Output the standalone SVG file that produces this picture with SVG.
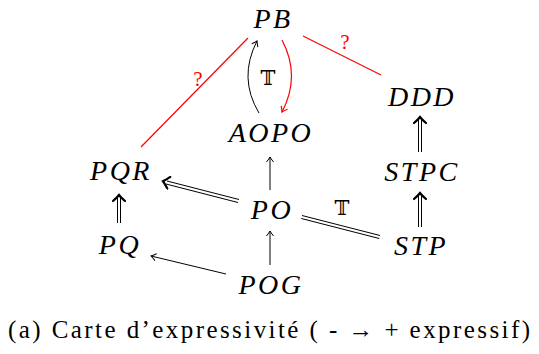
<svg xmlns="http://www.w3.org/2000/svg" width="539" height="354" viewBox="0 0 539 354">
<defs>
<marker id="a" markerWidth="10" markerHeight="10" viewBox="-6 -5 8 10" refX="0" refY="0" orient="auto" markerUnits="userSpaceOnUse">
<path d="M-5,-3.5 Q-1.5,-0.8 0,0 Q-1.5,0.8 -5,3.5" fill="none" stroke="#000" stroke-width="1"/>
</marker>
<marker id="ar" markerWidth="10" markerHeight="10" viewBox="-6 -5 8 10" refX="0" refY="0" orient="auto" markerUnits="userSpaceOnUse">
<path d="M-5,-3.5 Q-1.5,-0.8 0,0 Q-1.5,0.8 -5,3.5" fill="none" stroke="#f00" stroke-width="1.2"/>
</marker>
<marker id="d" markerWidth="14" markerHeight="14" viewBox="-8 -7 10 14" refX="0" refY="0" orient="auto" markerUnits="userSpaceOnUse">
<path d="M-6,-6 Q-2,-1.5 0,0 Q-2,1.5 -6,6" fill="none" stroke="#000" stroke-width="2.2" stroke-linecap="round"/>
</marker>
</defs>
<g id="edges" fill="none" stroke="#000" stroke-width="1">
<g stroke="#f00" stroke-width="1.2">
<line x1="248" y1="38" x2="141" y2="147"/>
<line x1="303" y1="36" x2="381" y2="75"/>
<path d="M282,40 Q301,76 282,112" marker-end="url(#ar)"/>
</g>
<g stroke="none" fill="#f00" font-family="Liberation Serif" font-size="21" text-anchor="middle">
<text x="198" y="86" style="font-family:'Liberation Serif',serif !important">?</text>
<text x="345" y="49" style="font-family:'Liberation Serif',serif !important">?</text>
</g>
<path d="M259,113 Q238,78 257,41" marker-end="url(#a)"/>
<line x1="270" y1="190" x2="270" y2="157" marker-end="url(#a)"/>
<line x1="270" y1="265" x2="270" y2="231" marker-end="url(#a)"/>
<line x1="226" y1="274" x2="151" y2="256" marker-end="url(#a)"/>
<g>
<line x1="238" y1="202.5" x2="166" y2="184"/>
<line x1="239" y1="199.5" x2="167" y2="181"/>
<line x1="170" y1="183" x2="163" y2="181.2" stroke="none" marker-end="url(#d)"/>
</g>
<g>
<line x1="117.5" y1="223" x2="117.5" y2="198"/>
<line x1="120.5" y1="223" x2="120.5" y2="198"/>
<line x1="119" y1="200" x2="119" y2="195" stroke="none" marker-end="url(#d)"/>
</g>
<g>
<line x1="418.5" y1="227" x2="418.5" y2="196"/>
<line x1="421.5" y1="227" x2="421.5" y2="196"/>
<line x1="420" y1="198" x2="420" y2="193" stroke="none" marker-end="url(#d)"/>
</g>
<g>
<line x1="418.5" y1="152" x2="418.5" y2="120"/>
<line x1="421.5" y1="152" x2="421.5" y2="120"/>
<line x1="420" y1="122" x2="420" y2="117" stroke="none" marker-end="url(#d)"/>
</g>
<line x1="302" y1="215.5" x2="380" y2="235.5"/>
<line x1="301.3" y1="218.5" x2="379.3" y2="238.5"/>
<g stroke="none" fill="#000" font-family="DejaVu Serif" font-size="20" text-anchor="middle">
<text x="268" y="85" style="font-family:'DejaVu Serif',serif !important">𝕋</text>
<text x="342" y="215" style="font-family:'DejaVu Serif',serif !important">𝕋</text>
</g>
</g>
<g font-family="Liberation Serif" font-style="italic" font-size="28" text-anchor="middle" letter-spacing="2.5" fill="#000">
<g id="PB"><text x="273" y="28" style="font-family:'Liberation Serif',serif !important">PB</text></g>
<g id="DDD"><text x="422" y="106" style="font-family:'Liberation Serif',serif !important">DDD</text></g>
<g id="AOPO"><text x="271" y="142" style="font-family:'Liberation Serif',serif !important">AOPO</text></g>
<g id="PQR"><text x="121" y="180" style="font-family:'Liberation Serif',serif !important">PQR</text></g>
<g id="STPC"><text x="422" y="181" style="font-family:'Liberation Serif',serif !important">STPC</text></g>
<g id="PO"><text x="272" y="219" style="font-family:'Liberation Serif',serif !important">PO</text></g>
<g id="STP"><text x="421" y="255" style="font-family:'Liberation Serif',serif !important">STP</text></g>
<g id="PQ"><text x="120" y="254" style="font-family:'Liberation Serif',serif !important">PQ</text></g>
<g id="POG"><text x="271" y="294" style="font-family:'Liberation Serif',serif !important">POG</text></g>
</g>
<g id="caption"><text x="8" y="338" font-family="Liberation Serif" font-size="25" fill="#000" textLength="522" lengthAdjust="spacing" style="font-family:'Liberation Serif',serif !important">(a) Carte d’expressivité ( - → + expressif)</text></g>
</svg>
